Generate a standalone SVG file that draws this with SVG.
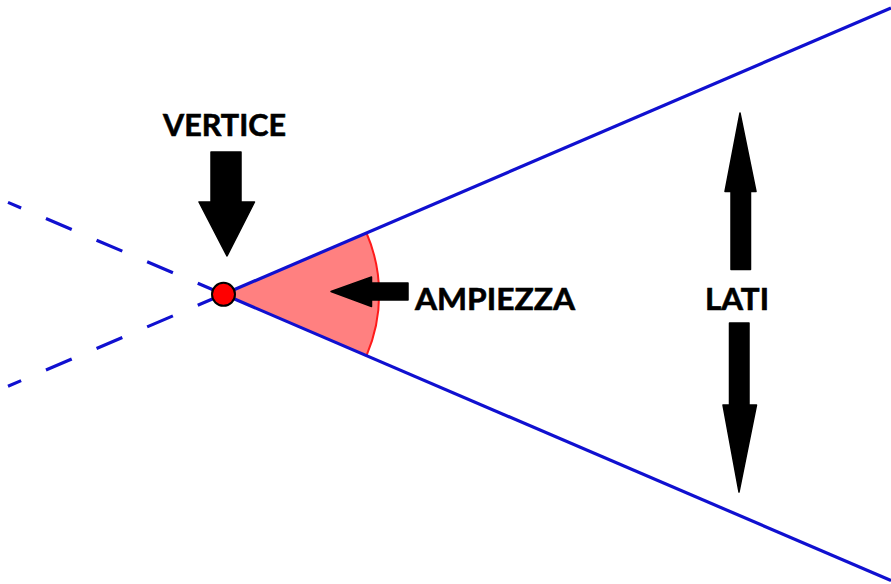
<svg xmlns="http://www.w3.org/2000/svg" width="891" height="584" viewBox="0 0 891 584">
<style>
.side{stroke:#1010d0;stroke-width:3.2;fill:none;stroke-linecap:butt}
.dash{stroke-dasharray:28 27}
.lbl{font-family:Lato,"Open Sans","Liberation Sans",sans-serif;font-weight:700;font-size:31px;fill:#000;stroke:#000;stroke-width:0.6}
.arr{fill:#000;stroke:#000;stroke-width:1.5;stroke-linejoin:round}
</style>
<rect width="891" height="584" fill="#fff"/>
<g id="angle">
<path d="M223.5,294.3 L366.5,233 A155,155 0 0 1 366.5,355.6 Z" fill="#ff8080"/>
<path d="M366.5,233 A155,155 0 0 1 366.5,355.6" fill="none" stroke="#ff1a1a" stroke-width="2"/>
</g>
<g id="connectors">
<line class="side" x1="223.5" y1="294.3" x2="891" y2="8"/>
<line class="side" x1="223.5" y1="294.3" x2="891" y2="580.5"/>
<line class="side dash" x1="223.5" y1="294.3" x2="8" y2="202.4"/>
<line class="side dash" x1="223.5" y1="294.3" x2="8" y2="386.2"/>
</g>
<g id="vertex">
<circle cx="223.5" cy="294.3" r="11.5" fill="#ff0000" stroke="#000" stroke-width="2"/>
</g>
<g id="vertice">
<text class="lbl" x="224.5" y="136" text-anchor="middle" textLength="123" lengthAdjust="spacingAndGlyphs">VERTICE</text>
<path class="arr" d="M211,152 H241 V202 H254.5 L227,256 L199,202 H211 Z"/>
</g>
<g id="ampiezza">
<text class="lbl" x="415" y="310" textLength="160" lengthAdjust="spacingAndGlyphs">AMPIEZZA</text>
<path class="arr" d="M408,283 V300 H371.5 V306.5 L331,291.5 L371.5,277 V283 Z"/>
</g>
<g id="lati">
<text class="lbl" x="737" y="310" text-anchor="middle" textLength="64" lengthAdjust="spacingAndGlyphs">LATI</text>
<path class="arr" d="M740,113 L756,191.5 H750.5 V269.5 H731 V191.5 H725 Z"/>
<path class="arr" d="M729.5,323 H749 V405 H756.5 L739,492 L723,405 H729.5 Z"/>
</g>
</svg>
